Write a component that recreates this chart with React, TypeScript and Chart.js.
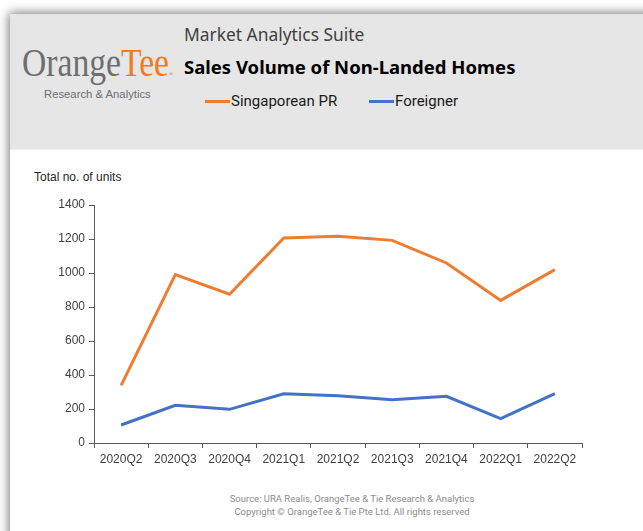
import React, { useEffect, useRef } from "react";
import { Chart, registerables } from "chart.js";

Chart.register(...registerables);

const categories = ["2020Q2", "2020Q3", "2020Q4", "2021Q1", "2021Q2", "2021Q3", "2021Q4", "2022Q1", "2022Q2"];
const singaporeanPR = [339, 990, 875, 1206, 1216, 1192, 1059, 839, 1020];
const foreigner = [106, 222, 198, 290, 278, 255, 275, 143, 290];
const seriesNames = ["Singaporean PR", "Foreigner"];
const seriesColors = ["#ED7D31", "#4472C4"];
const yMin = 0;
const yMax = 1400;
const yStep = 200;

export default function App() {
  const ref = useRef<HTMLCanvasElement | null>(null);

  useEffect(() => {
    if (!ref.current) return;
    const chart = new Chart(ref.current, {
      type: "line",
      data: {
        labels: categories,
        datasets: [
          {
            label: seriesNames[0],
            data: singaporeanPR,
            borderColor: seriesColors[0],
            backgroundColor: seriesColors[0],
            borderWidth: 3,
            pointRadius: 0,
            tension: 0,
          },
          {
            label: seriesNames[1],
            data: foreigner,
            borderColor: seriesColors[1],
            backgroundColor: seriesColors[1],
            borderWidth: 3,
            pointRadius: 0,
            tension: 0,
          },
        ],
      },
      options: {
        responsive: false,
        animation: false,
        layout: { autoPadding: false, padding: { left: 0, top: 15, right: 28, bottom: 0 } },
        plugins: { legend: { display: false }, tooltip: { enabled: false } },
        scales: {
          x: {
            offset: true,
            grid: { offset: true, drawOnChartArea: false, drawTicks: true, tickLength: 5, color: "#595959" },
            border: { display: true, color: "#595959", width: 1 },
            ticks: {
              color: "#404040",
              font: { family: "'Liberation Sans', Arial, sans-serif", size: 12 },
              padding: 4,
              maxRotation: 0,
              autoSkip: false,
            },
            afterFit: (s: any) => { s.height = 27; },
          },
          y: {
            min: yMin,
            max: yMax,
            grid: { drawOnChartArea: false, drawTicks: true, tickLength: 5, color: "#595959" },
            border: { display: true, color: "#595959", width: 1 },
            ticks: {
              stepSize: yStep,
              color: "#404040",
              font: { family: "'Liberation Sans', Arial, sans-serif", size: 12 },
              padding: 4,
              callback: (v: any) => String(v),
            },
            afterFit: (s: any) => { s.width = 84; },
          },
        },
      },
    });
    return () => chart.destroy();
  }, []);

  const legendItem = (name: string, color: string, left: number) => (
    <div style={{ position: "absolute", left, top: 91, height: 20, display: "flex", alignItems: "center" }}>
      <div style={{ width: 25, height: 3, background: color, marginRight: 1 }} />
      <span style={{ fontFamily: "Roboto, 'Noto Sans', sans-serif", fontSize: 15, color: "#1a1a1a", whiteSpace: "nowrap" }}>{name}</span>
    </div>
  );

  return (
    <div style={{ position: "fixed", left: 0, top: 0, width: 643, height: 531, overflow: "hidden", background: "#fff" }}>
      <div
        style={{
          position: "absolute",
          left: 10,
          top: 14,
          width: 700,
          height: 600,
          background: "#fff",
          boxShadow: "0 0 10px 1px rgba(0,0,0,0.55)",
        }}
      />
      <div style={{ position: "absolute", left: 10, top: 14, width: 700, height: 135, background: "#e6e6e6", borderBottom: "1px solid #efefef" }} />
      {/* logo */}
      <div
        style={{
          position: "absolute",
          left: 22,
          top: 40,
          fontFamily: "'Liberation Serif', 'DejaVu Serif', serif",
          fontSize: 41,
          lineHeight: "44px",
          whiteSpace: "nowrap",
          transform: "scaleX(0.82)",
          transformOrigin: "left top",
        }}
      >
        <span style={{ color: "#6d6e71" }}>Orange</span>
        <span style={{ color: "#f47920" }}>Tee</span>
        <span style={{ color: "#8a8a8a", fontSize: 7 }}>®</span>
      </div>
      <div
        style={{
          position: "absolute",
          left: 44,
          top: 88,
          fontFamily: "'Liberation Sans', Arial, sans-serif",
          fontSize: 11.3,
          color: "#6d6e71",
          whiteSpace: "nowrap",
        }}
      >
        Research &amp; Analytics
      </div>
      <div
        style={{
          position: "absolute",
          left: 184,
          top: 22,
          fontFamily: "'Noto Sans', 'Open Sans', sans-serif",
          fontSize: 17.4,
          color: "#404040",
          whiteSpace: "nowrap",
        }}
      >
        Market Analytics Suite
      </div>
      <div
        style={{
          position: "absolute",
          left: 184,
          top: 54,
          fontFamily: "'Noto Sans', 'Open Sans', sans-serif",
          fontWeight: 700,
          fontSize: 18.5,
          color: "#000",
          whiteSpace: "nowrap",
        }}
      >
        Sales Volume of Non-Landed Homes
      </div>
      {legendItem(seriesNames[0], seriesColors[0], 205)}
      {legendItem(seriesNames[1], seriesColors[1], 369)}
      <div
        style={{
          position: "absolute",
          left: 34,
          top: 170,
          fontFamily: "'Liberation Sans', Arial, sans-serif",
          fontSize: 12,
          color: "#262626",
          whiteSpace: "nowrap",
        }}
      >
        Total no. of units
      </div>
      <canvas ref={ref} width={600} height={280} style={{ position: "absolute", left: 10, top: 190, width: 600, height: 280 }} />
      <div
        style={{
          position: "absolute",
          left: 152,
          width: 400,
          top: 493,
          textAlign: "center",
          fontFamily: "Roboto, 'Liberation Sans', sans-serif",
          fontSize: 9.5,
          lineHeight: "12.5px",
          color: "#8c8c8c",
        }}
      >
        Source: URA Realis, OrangeTee &amp; Tie Research &amp; Analytics
        <br />
        Copyright © OrangeTee &amp; Tie Pte Ltd. All rights reserved
      </div>
    </div>
  );
}
